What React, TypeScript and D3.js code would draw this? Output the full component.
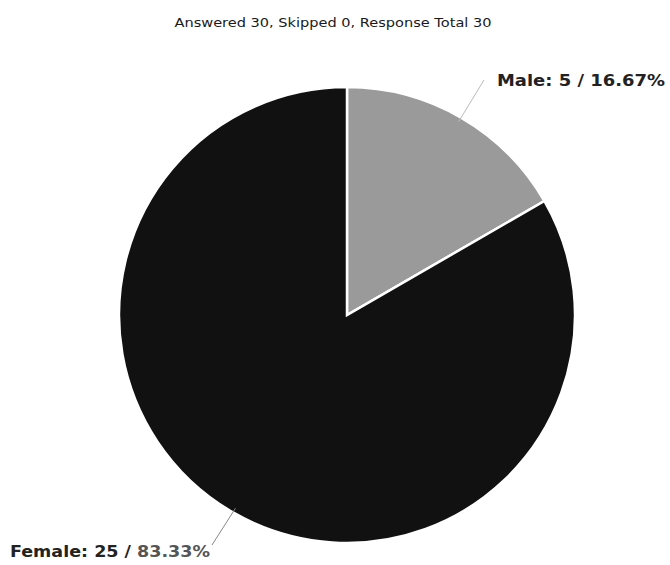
import React from "react";
import * as d3 from "d3";

const categories = ["Male", "Female"];
const counts = [5, 25];
const percents = ["16.67%", "83.33%"];
const colors = ["#9a9a9a", "#111111"];
const title = "Answered 30, Skipped 0, Response Total 30";

export default function App() {
  const W = 670, H = 565;
  const cx = 347, cy = 315, r = 228;
  const data = categories.map((c, i) => ({ c, v: counts[i], p: percents[i], col: colors[i] }));
  const pie = d3.pie<any>().value((d) => d.v).sort(null);
  const arcs = pie(data);
  const arc = d3.arc<any>().innerRadius(0).outerRadius(r);
  const labelPos = [
    { lx: 497, ly: 86, len: 168, ex: 484, ey: 80 },
    { lx: 10, ly: 557, len: 200, ex: 212, ey: 545 },
  ];
  return (
    <div style={{ position: "absolute", left: 0, top: 0 }}>
      <svg width={W} height={H} style={{ display: "block", background: "#fff" }}>
        <text x={333} y={27} textAnchor="middle" fontFamily="'DejaVu Sans', Verdana, sans-serif" fontSize={13} fill="#1a1a1a" textLength={317} lengthAdjust="spacingAndGlyphs">
          {title}
        </text>
        <g transform={`translate(${cx},${cy})`}>
          {arcs.map((a, i) => (
            <path key={i} d={arc(a) || ""} fill={a.data.col} stroke="#fff" strokeWidth={2.5} strokeLinejoin="miter" />
          ))}
        </g>
        {arcs.map((a, i) => {
          const mid = (a.startAngle + a.endAngle) / 2;
          const sx = cx + (r - 5) * Math.sin(mid);
          const sy = cy - (r - 5) * Math.cos(mid);
          const lp = labelPos[i];
          return (
            <g key={"l" + i}>
              <line x1={sx} y1={sy} x2={lp.ex} y2={lp.ey} stroke={i === 0 ? "#bbb" : "#888"} strokeWidth={1} />
              <text x={lp.lx} y={lp.ly} fontFamily="'DejaVu Sans', Verdana, sans-serif" fontWeight="bold" fontSize={15} fill="#222" textLength={lp.len} lengthAdjust="spacingAndGlyphs">
                {`${a.data.c}: ${a.data.v} / `}
                <tspan fill={i === 1 ? "#555" : "#222"}>{a.data.p}</tspan>
              </text>
            </g>
          );
        })}
      </svg>
    </div>
  );
}
